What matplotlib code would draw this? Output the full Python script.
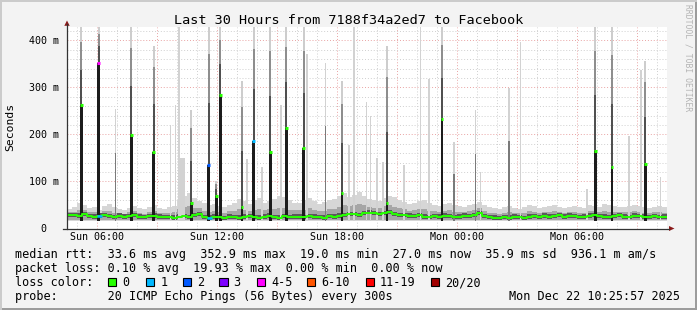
import matplotlib
matplotlib.use("Agg")
import matplotlib.pyplot as plt
from matplotlib.patches import Rectangle, Polygon
from matplotlib.lines import Line2D
import numpy as np

W, H = 697, 310
MONO = "DejaVu Sans Mono"

# time axis in hours since Sun 00:00, baseline sampled every 15 minutes
t_start, t_end = 4.5, 34.5
slot_h = 0.25

# baseline median rtt (ms), one value per 15 min slot
median_ms = [29, 28, 27, 30, 26, 25, 27, 28, 26, 24, 27, 25, 26, 28, 25, 24, 26, 27, 25, 24,
             24, 23, 25, 26, 24, 28, 30, 24, 23, 25, 24, 22, 25, 24, 23, 25, 26, 24, 23, 25,
             27, 24, 23, 26, 24, 25,
             25, 24, 26, 25, 24, 23, 26, 25, 27, 28, 30, 31, 29, 33, 34, 32, 30, 33, 35, 31,
             29, 28, 27, 26, 28, 25, 24, 26, 25, 27, 26, 24, 25, 27, 26,
             28, 32, 26, 24, 23, 22, 24, 23, 25, 24, 22, 25, 26, 24, 27, 25, 26, 28, 25,
             27, 26, 24, 25, 27, 29, 26, 25, 24, 26, 28, 25, 24, 27, 26, 25, 24, 26, 24, 25]
# top of the light smoke (slowest ping) per slot (ms)
smoke_top_ms = [42, 45, 55, 50, 44, 46, 40, 48, 52, 45, 42, 40, 44, 47, 43, 41, 45, 50, 44, 42,
                45, 48, 60, 70, 75, 65, 58, 55, 50, 52, 48, 46, 50, 55, 62, 58, 52, 60, 65, 55,
                58, 62, 70, 66, 60, 55,
                55, 60, 65, 58, 52, 56, 60, 62, 70, 75, 68, 72, 78, 70, 62, 60, 58, 65, 70, 66,
                60, 56, 52, 55, 58, 60, 54, 50, 48, 52, 55, 50, 48, 46, 50,
                52, 56, 50, 46, 44, 42, 45, 48, 44, 42, 46, 50, 47, 44, 45, 48, 50, 46, 44,
                46, 48, 45, 44, 50, 48, 46, 52, 50, 48, 45, 46, 48, 50, 47, 45, 44, 46, 48, 45]
smoke_floor_ms = 17
base_loss = {6: 1, 28: 1}  # slot -> loss bucket

# big spikes: hour, median (ms), top of smoke (ms), loss bucket
spike_hour = [5.22, 6.08, 7.72, 8.83, 10.72, 11.59, 11.97, 12.17, 13.25, 13.84,
              14.67, 15.47, 16.34, 18.25, 20.50, 23.25, 30.92, 31.75, 33.42]
spike_median = [262, 353, 198, 162, 54, 135, 69, 283, 45, 186,
                162, 213, 171, 75, 54, 232, 164, 130, 138]
spike_top = [430, 430, 430, 389, 253, 430, 100, 430, 313, 430,
             430, 430, 430, 313, 389, 430, 430, 430, 356]
spike_loss = [0, 4, 0, 0, 0, 2, 0, 0, 0, 1,
              0, 0, 0, 0, 0, 0, 0, 0, 0]

# thin smoke-only spikes: hour, top (ms), tone (0 light, 1 medium)
light_hour = [6.92, 9.67, 9.92, 10.10, 10.25, 13.50, 14.25, 15.20, 16.50, 17.42,
              18.60, 18.84, 19.47, 19.67, 20.00, 20.29, 21.34, 22.17, 22.59, 23.84,
              24.92, 25.17, 26.59, 27.17, 30.50, 32.59, 33.20, 34.17]
light_top = [255, 221, 262, 430, 150, 148, 130, 262, 372, 351,
             177, 430, 269, 240, 150, 141, 136, 430, 317, 183,
             253, 120, 298, 396, 85, 196, 336, 109]
light_tone = [1, 0, 0, 0, 0, 0, 0, 0, 0, 1,
              0, 0, 0, 0, 0, 0, 0, 0, 0, 1,
              1, 0, 1, 0, 0, 0, 0, 0]

loss_colors = ["#26ff00", "#00b8ff", "#0059ff", "#7e00ff", "#ff00ff", "#ff5500", "#ff0000", "#a10000"]
loss_labels = ["0", "1", "2", "3", "4-5", "6-10", "11-19", "20/20"]

x_ticks = [6, 12, 18, 24, 30]
x_labels = ["Sun 06:00", "Sun 12:00", "Sun 18:00", "Mon 00:00", "Mon 06:00"]
y_ticks = [0, 0.1, 0.2, 0.3, 0.4]
y_labels = ["0  ", "100 m", "200 m", "300 m", "400 m"]

title = "Last 30 Hours from 7188f34a2ed7 to Facebook"
line_rtt = "median rtt:  33.6 ms avg  352.9 ms max  19.0 ms min  27.0 ms now  35.9 ms sd  936.1 m am/s"
line_loss = "packet loss: 0.10 % avg  19.93 % max  0.00 % min  0.00 % now"
line_probe = "probe:       20 ICMP Echo Pings (56 Bytes) every 300s"
stamp = "Mon Dec 22 10:25:57 2025"
box_x = [108, 146, 182.7, 219.3, 256.7, 307, 365.7, 430.7]


def fx(x):
    return x / W


def fy(y):
    return 1 - y / H


fig = plt.figure(figsize=(W / 100, H / 100), dpi=100, facecolor="#f3f3f3")

# plot area 67..667 px wide, 27..228.5 px high
ax = fig.add_axes([fx(67), fy(228.5), 600 / W, (228.5 - 27) / H])
ax.set_facecolor("white")
ax.set_xlim(t_start, t_end)
ax.set_ylim(0, 0.4285)
for s in ax.spines.values():
    s.set_visible(False)

# grid
for hh in range(5, 35):
    major = hh % 3 == 0
    ax.axvline(hh, color="#e9a3a3" if major else "#cfcfcf", lw=0.7,
               ls=(0, (1, 2)), zorder=1)
for k in range(1, 22):
    v = k * 0.02
    major = k % 5 == 0
    ax.axhline(v, color="#e9a3a3" if major else "#cfcfcf", lw=0.7,
               ls=(0, (1, 2)), zorder=1)

# baseline smoke
edges = t_start + slot_h * np.arange(len(median_ms) + 1)
med = np.array(median_ms) / 1000
top = np.array(smoke_top_ms) / 1000
floor = smoke_floor_ms / 1000


def steps(v):
    return np.append(v, v[-1])


ax.fill_between(edges, floor, steps(top), step="post", color="#d6d6d6", lw=0, zorder=2)
ax.fill_between(edges, floor + 0.002, steps(med + 0.45 * (top - med)), step="post",
                color="#a6a6a6", lw=0, zorder=2)
ax.fill_between(edges, steps(med - 0.004), steps(med + 0.005), step="post",
                color="#5a5a5a", lw=0, zorder=2)

# thin light spikes
for h, tp, tone in zip(light_hour, light_top, light_tone):
    tp = min(tp, 430) / 1000
    w = 0.3 if h == 10.25 else 0.07
    ax.bar(h, tp - floor, bottom=floor, width=w, color="#d2d2d2", lw=0, zorder=3)
    if tone == 1:
        ax.bar(h, 0.6 * (tp - floor), bottom=floor, width=w, color="#7a7a7a", lw=0, zorder=3)

# big spikes
for h, m, tp, ls in zip(spike_hour, spike_median, spike_top, spike_loss):
    m = m / 1000
    tp = min(tp, 430) / 1000
    w = 0.14
    wu = 0.1
    ax.bar(h, tp - floor, bottom=floor, width=wu, color="#cdcdcd", lw=0, zorder=3)
    ax.bar(h, m + 0.8 * (tp - m) - floor, bottom=floor, width=wu, color="#8e8e8e", lw=0, zorder=3)
    ax.bar(h, m + 0.45 * (tp - m) - floor, bottom=floor, width=wu, color="#505050", lw=0, zorder=3)
    ax.bar(h, m - floor, bottom=floor, width=w, color="#1c1c1c", lw=0, zorder=4)
    ax.hlines(m, h - w / 2, h + w / 2, color=loss_colors[ls], lw=2.2, zorder=6)

# median line
ax.step(edges, steps(med), where="post", color=loss_colors[0], lw=1.4, zorder=5)
for i, ls in base_loss.items():
    ax.hlines(med[i], edges[i], edges[i + 1], color=loss_colors[ls], lw=1.8, zorder=6)

ax.set_xticks(x_ticks)
ax.set_xticklabels(x_labels, fontfamily=MONO, fontsize=7.2)
ax.set_yticks(y_ticks)
ax.set_yticklabels(y_labels, fontfamily=MONO, fontsize=7.2)
ax.tick_params(axis="x", length=0, pad=2.5, colors="#000000")
ax.tick_params(axis="y", length=0, pad=5.5, colors="#000000")

# axes with arrows
fig.add_artist(Line2D([fx(67), fx(67)], [fy(229), fy(24)], color="#333333", lw=0.9))
fig.add_artist(Line2D([fx(63), fx(669)], [fy(228.5), fy(228.5)], color="#333333", lw=0.9))
fig.add_artist(Polygon([(fx(64.3), fy(25.8)), (fx(69.7), fy(25.8)), (fx(67), fy(20.5))],
                       closed=True, color="#8b1a1a", lw=0))
fig.add_artist(Polygon([(fx(669), fy(226)), (fx(669), fy(231)), (fx(674.5), fy(228.5))],
                       closed=True, color="#8b1a1a", lw=0))

# texts
LEG = 8.5
fig.text(fx(348.5), fy(24), title, family=MONO, fontsize=9.7, ha="center", va="baseline")
fig.text(fx(10), fy(127), "Seconds", family=MONO, fontsize=8.2, rotation=90,
         ha="center", va="center")
fig.text(fx(688), fy(58), "RRDTOOL / TOBI OETIKER", family=MONO, fontsize=5.8,
         rotation=270, ha="center", va="center", color="#b4b4b4")

baselines = [258.3, 272.3, 286.3, 300.3]
fig.text(fx(15.3), fy(baselines[0]), line_rtt, family=MONO, fontsize=LEG, va="baseline")
fig.text(fx(15.3), fy(baselines[1]), line_loss, family=MONO, fontsize=LEG, va="baseline")
fig.text(fx(15.3), fy(baselines[2]), "loss color:", family=MONO, fontsize=LEG, va="baseline")
for x, c, lab in zip(box_x, loss_colors, loss_labels):
    fig.add_artist(Rectangle((fx(x), fy(286)), 8.3 / W, 8.3 / H, facecolor=c,
                             edgecolor="black", lw=0.8))
    fig.text(fx(x + 14.3), fy(baselines[2]), lab, family=MONO, fontsize=LEG, va="baseline")
fig.text(fx(15.3), fy(baselines[3]), line_probe, family=MONO, fontsize=LEG, va="baseline")
fig.text(fx(680), fy(baselines[3]), stamp, family=MONO, fontsize=LEG, va="baseline", ha="right")

# canvas frame
fig.add_artist(Rectangle((0, 0), 1, 2 / H, facecolor="#9c9c9c", lw=0))
fig.add_artist(Rectangle((1 - 2 / W, 0), 2 / W, 1, facecolor="#9c9c9c", lw=0))
fig.add_artist(Rectangle((0, 1 - 2 / H), 1, 2 / H, facecolor="#cbcbcb", lw=0))
fig.add_artist(Rectangle((0, 0), 2 / W, 1, facecolor="#cbcbcb", lw=0))

fig.savefig("out.png", dpi=100, facecolor=fig.get_facecolor())
